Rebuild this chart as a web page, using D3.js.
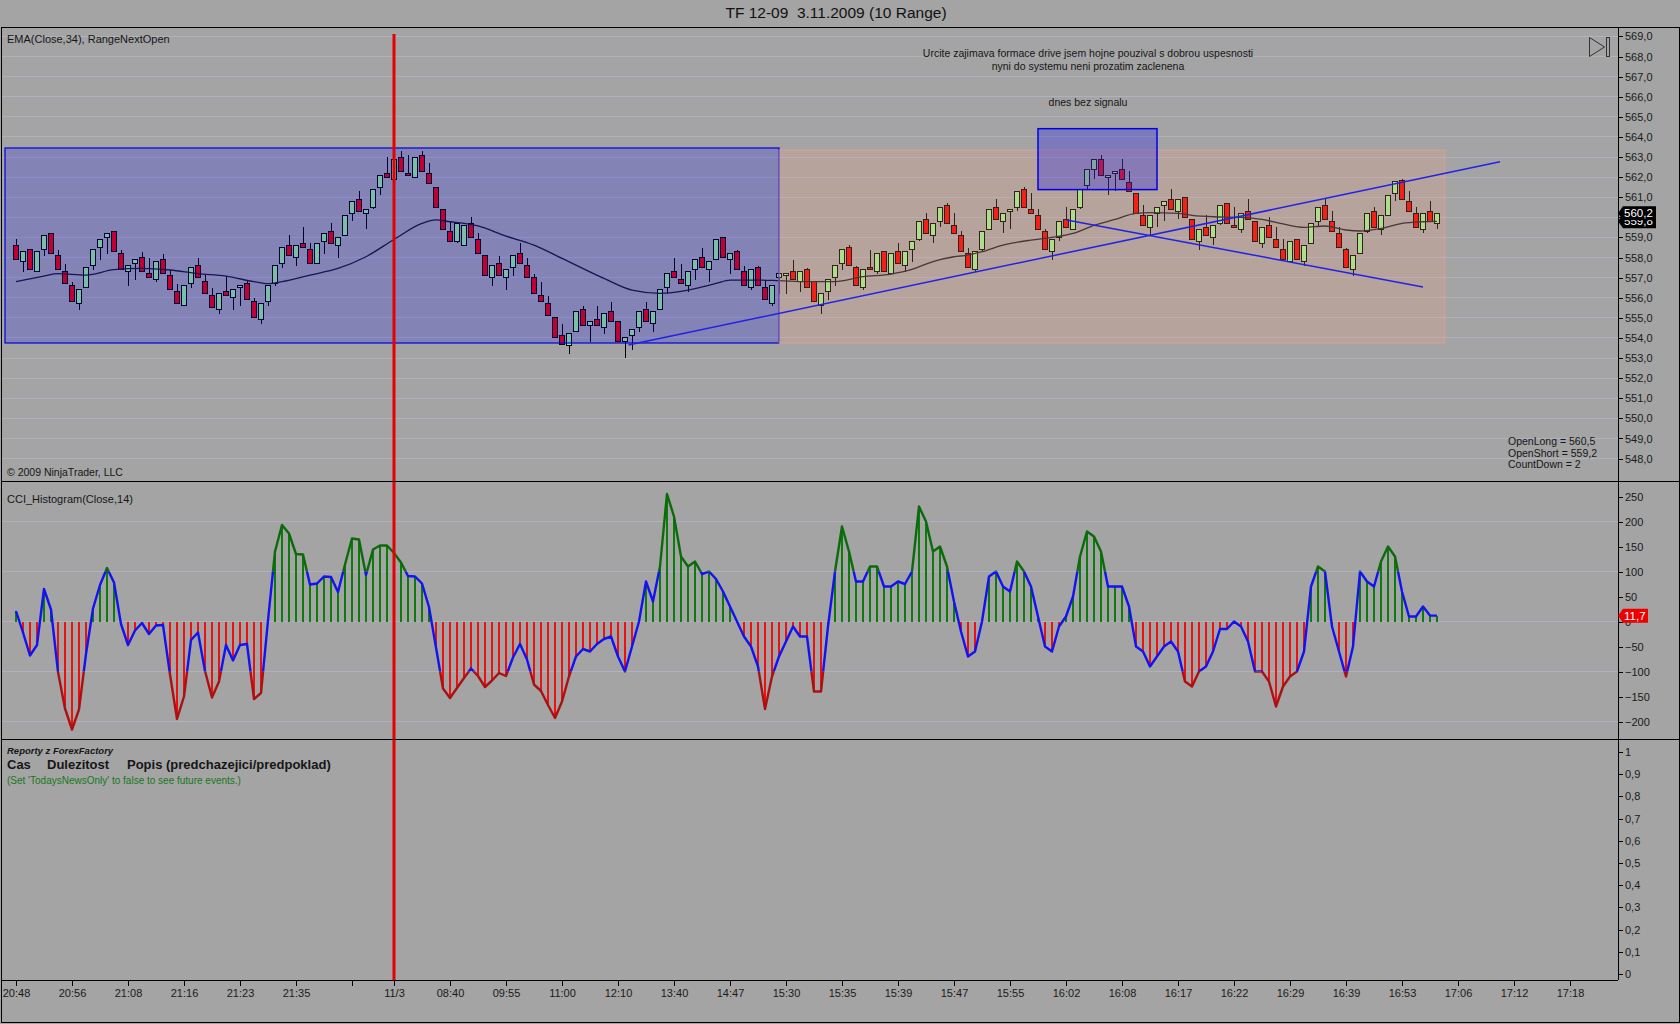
<!DOCTYPE html>
<html><head><meta charset="utf-8">
<script src="https://cdn.jsdelivr.net/npm/d3@7"></script>
<style>
html,body{margin:0;padding:0;background:#a4a4a4;}
svg{display:block;font-family:Arial,"Liberation Sans",sans-serif;}
</style></head><body>
<svg id="c" width="1680" height="1024"></svg>
<script>
// ---------------- DATA ----------------
const chartTitle = "TF 12-09  3.11.2009 (10 Range)";
const timeTickBars = [0,8,16,24,32,40,48,54,62,70,78,86,94,102,110,118,126,134,142,150,158,166,174,182,190,198,206,214,222];
const timeTickLabels = ["20:48","20:56","21:08","21:16","21:23","21:35","","11/3","08:40","09:55","11:00","12:10","13:40","14:47","15:30","15:35","15:39","15:47","15:55","16:02","16:08","16:17","16:22","16:29","16:39","16:53","17:06","17:12","17:18"];
const priceTicks = d3.range(548, 569.01, 1);
const cciTicks = [-200,-150,-100,-50,0,50,100,150,200,250];
const newsTicks = [0,0.1,0.2,0.3,0.4,0.5,0.6,0.7,0.8,0.9,1];

const highs = [
558.9,558.3,558.4,558.3,559.1,559.2,558.4,557.7,556.8,556.4,
557.5,558.4,558.9,559.2,559.3,558.4,557.6,557.9,558.3,558.0,
557.8,558.2,557.4,556.7,556.6,557.5,558.0,557.2,556.5,556.2,
557.1,556.4,556.6,556.9,556.0,555.7,556.6,557.6,558.5,559.1,
558.6,559.5,558.7,558.7,559.2,559.7,559.0,560.1,560.8,561.3,
560.4,561.4,562.1,563.0,562.9,563.3,563.1,563.0,563.3,562.7,
561.5,560.4,559.8,559.7,559.6,560.0,559.2,558.1,557.6,558.1,
557.4,558.1,558.7,558.0,557.2,556.8,556.1,555.0,554.7,554.2,
555.3,555.6,554.8,555.6,555.2,555.8,554.8,554.0,554.4,555.3,
555.8,555.3,556.4,557.2,558.0,557.7,557.3,557.9,558.5,557.8,
558.9,559.0,558.2,558.4,557.6,557.4,557.6,556.9,556.6,557.2,
557.2,557.9,557.3,557.5,556.8,556.2,556.9,557.6,558.4,558.6,
557.6,557.4,558.4,558.2,558.3,558.2,558.7,558.3,558.8,559.8,
560.2,559.7,560.5,560.7,560.2,559.3,558.5,558.3,559.3,560.4,
560.9,560.2,560.4,561.3,561.5,561.2,560.4,559.4,558.9,559.8,
560.5,560.4,561.4,562.4,562.9,563.1,562.1,562.3,562.9,562.3,
561.2,560.6,560.1,560.5,560.8,561.4,560.9,561.0,559.9,559.4,
560.1,559.6,560.6,560.7,560.5,560.2,560.9,559.8,559.5,560.0,
559.5,558.9,558.8,558.9,558.6,559.7,560.5,560.9,560.3,559.5,
558.5,558.1,559.2,560.2,560.5,560.1,561.1,561.8,561.9,561.3,
560.5,560.2,560.8,560.2];
const lows = [
557.9,557.3,557.4,557.3,558.1,558.2,557.4,556.7,555.8,555.4,
556.5,557.4,557.9,558.2,558.3,557.4,556.6,556.9,557.3,557.0,
556.8,557.2,556.4,555.7,555.6,556.5,557.0,556.2,555.5,555.2,
556.1,555.4,555.6,555.9,555.0,554.7,555.6,556.6,557.5,558.1,
557.6,558.5,557.7,557.7,558.2,558.7,558.0,559.1,559.8,560.3,
559.4,560.4,561.1,562.0,561.9,562.3,562.1,562.0,562.3,561.7,
560.5,559.4,558.8,558.7,558.6,559.0,558.2,557.1,556.6,557.1,
556.4,557.1,557.7,557.0,556.2,555.8,555.1,554.0,553.7,553.2,
554.3,554.6,553.8,554.6,554.2,554.8,553.8,553.0,553.4,554.3,
554.8,554.3,555.4,556.2,557.0,556.7,556.3,556.9,557.5,556.8,
557.9,558.0,557.2,557.4,556.6,556.4,556.6,555.9,555.6,556.2,
556.2,556.9,556.3,556.5,555.8,555.2,555.9,556.6,557.4,557.6,
556.6,556.4,557.4,557.2,557.3,557.2,557.7,557.3,557.8,558.8,
559.2,558.7,559.5,559.7,559.2,558.3,557.5,557.3,558.3,559.4,
559.9,559.2,559.4,560.3,560.5,560.2,559.4,558.4,557.9,558.8,
559.5,559.4,560.4,561.4,561.9,562.1,561.1,561.3,561.9,561.3,
560.2,559.6,559.1,559.5,559.8,560.4,559.9,560.0,558.9,558.4,
559.1,558.6,559.6,559.7,559.5,559.2,559.9,558.8,558.5,559.0,
558.5,557.9,557.8,557.9,557.6,558.7,559.5,559.9,559.3,558.5,
557.5,557.1,558.2,559.2,559.5,559.1,560.1,560.8,560.9,560.3,
559.5,559.2,559.8,559.4];
const opens = [
558.6,557.8,558.4,557.3,558.4,559.2,558.1,557.3,556.6,555.7,
556.5,557.6,558.5,559.0,559.3,558.2,557.3,557.7,558.0,557.2,
556.9,557.9,557.1,556.3,555.6,556.7,557.6,556.8,556.1,555.4,
556.3,556.0,556.5,556.7,555.8,554.9,555.8,556.7,557.7,558.6,
558.0,558.7,558.4,557.7,558.8,559.3,558.6,559.1,560.2,560.9,
560.2,560.5,561.5,562.2,561.9,563.0,562.2,562.0,563.1,562.2,
561.5,560.4,559.3,558.8,558.6,559.7,558.9,558.1,557.0,557.7,
557.0,557.5,558.2,557.6,557.0,556.1,555.7,555.0,554.1,553.65,
554.3,555.4,554.6,554.9,554.5,555.3,554.8,553.8,554.1,554.5,
555.4,554.7,555.4,556.5,557.3,556.9,556.6,557.4,558.0,557.4,
557.9,559.0,557.9,558.3,557.3,556.5,557.5,556.5,555.7,557.0,
557.1,557.3,556.8,557.4,556.8,555.6,556.3,557.0,557.7,558.5,
557.5,556.5,557.5,557.3,558.3,557.2,558.3,557.6,558.4,558.9,
559.9,559.1,559.8,560.6,559.6,559.1,558.2,557.4,558.4,559.4,
560.5,559.8,560.3,560.5,561.4,560.4,560.1,559.3,558.3,559.0,
559.9,559.4,560.5,561.6,562.4,562.9,562.0,562.2,562.4,561.75,
561.2,560.1,559.5,560.2,560.6,560.9,560.3,561.0,559.9,558.8,
559.5,559.0,559.7,560.7,559.6,559.4,560.3,559.8,558.7,559.6,
558.9,558.4,557.8,558.9,557.8,558.7,559.8,560.6,559.8,559.2,
558.4,557.4,558.2,559.3,560.3,559.4,560.1,561.2,561.85,560.8,
560.2,559.4,560.3,559.7];
const closes = [
557.9,558.3,557.4,558.3,559.1,558.2,557.4,556.7,555.8,556.4,
557.5,558.4,558.9,559.2,558.3,557.4,557.6,557.9,557.3,557.0,
557.8,557.2,556.4,555.7,556.6,557.5,557.0,556.2,555.5,556.2,
556.1,556.4,556.6,555.9,555.0,555.7,556.6,557.6,558.5,558.1,
558.6,558.5,557.7,558.7,559.2,558.7,559.0,560.1,560.8,560.3,
560.4,561.4,562.1,562.0,562.9,562.3,562.1,563.0,562.3,561.7,
560.5,559.4,558.8,559.7,559.6,559.0,558.2,557.1,557.6,557.1,
557.4,558.1,557.7,557.0,556.2,555.8,555.1,554.0,553.7,554.2,
555.3,554.6,554.8,554.6,555.2,554.8,553.8,554.0,554.4,555.3,
554.8,555.3,556.4,557.2,557.0,556.7,557.3,557.9,557.5,557.8,
558.9,558.0,558.2,557.4,556.6,557.4,556.6,555.9,556.6,557.2,
557.2,556.9,557.3,556.5,555.8,556.2,556.9,557.6,558.4,557.6,
556.6,557.4,557.4,558.2,557.3,558.2,557.7,558.3,558.8,559.8,
559.2,559.7,560.5,559.7,559.2,558.3,557.5,558.3,559.3,560.4,
559.9,560.2,560.4,561.3,560.5,560.2,559.4,558.4,558.9,559.8,
559.5,560.4,561.4,562.4,562.9,562.1,562.1,562.3,561.9,561.3,
560.2,559.6,560.1,560.5,560.8,560.4,560.9,560.0,558.9,559.4,
559.1,559.6,560.6,559.7,559.5,560.2,559.9,558.8,559.5,559.0,
558.5,557.9,558.8,557.9,558.6,559.7,560.5,559.9,559.3,558.5,
557.5,558.1,559.2,560.2,559.5,560.1,561.1,561.8,560.9,560.3,
559.5,560.2,559.8,560.2];

const emaBars = [0,4,6,10,14,18,22,26,30,34,36,38,42,46,50,54,58,60,62,64,66,70,74,78,84,88,92,96,100,102,106,109,113,117,121,125,128,131,134,136,138,141,145,148,151,154,157,160,162,166,168,171,175,178,181,184,187,190,192,195,198,201,203];
const emaValues = [556.8,557.08,557.2,557.13,557.4,557.46,557.38,557.2,557.08,556.8,556.7,556.8,557.13,557.46,558.04,558.9,559.7,559.87,559.78,559.7,559.57,559.07,558.62,557.96,556.96,556.38,556.22,556.38,556.71,556.88,556.88,556.85,556.8,556.8,557.05,557.18,557.41,557.8,558.04,558.12,558.29,558.62,558.87,559.0,559.2,559.6,559.9,560.2,560.23,560.2,560.1,560.03,560.0,559.9,559.67,559.5,559.57,559.37,559.32,559.45,559.7,559.78,559.8];

const cci = [
21,-22,-68,-47,65,24,-101,-174,-216,-176,
-65,26,73,107,78,-5,-47,-18,-3,-25,
-8,-7,-106,-195,-150,-37,-22,-99,-152,-120,
-47,-78,-47,-45,-155,-143,2,140,193,176,
135,134,74,76,90,89,59,114,166,164,
93,144,152,152,137,118,91,90,76,29,
-52,-134,-153,-133,-113,-94,-109,-131,-118,-103,
-109,-72,-45,-76,-126,-139,-167,-193,-160,-110,
-70,-55,-60,-45,-35,-30,-70,-100,-50,0,
80,40,110,255,210,130,110,120,95,100,
85,60,30,0,-30,-50,-90,-175,-110,-70,
-40,-10,-30,-30,-140,-140,-10,100,190,140,
80,80,110,110,70,70,80,75,100,230,
200,140,150,110,40,-20,-70,-60,0,90,
100,70,60,120,100,70,10,-50,-60,-10,
10,50,130,180,170,140,70,70,70,30,
-50,-60,-90,-70,-50,-40,-60,-120,-130,-100,
-90,-60,-15,-15,0,-10,-40,-100,-100,-120,
-170,-130,-110,-100,-60,70,110,100,-10,-60,
-110,-50,100,80,70,120,150,130,60,10,
10,30,12,11.7];

// drawing objects (bar index / price coordinates)
const rangeRectBars = [-1.57, 109];      const rangeRectPrices = [553.75, 563.45];
const nextRectBars = [109, 204.1];       const nextRectPrices = [553.75, 563.35];
const signalRectBars = [146, 163];       const signalRectPrices = [561.38, 564.41];
const trendUpBars = [87.5, 212];         const trendUpPrices = [553.65, 562.77];
const trendDownBars = [150.1, 201];      const trendDownPrices = [559.87, 556.54];
const sessionBar = 54;
const lastClose = 560.2, lastEma = 559.8, lastCci = 11.7;
const noteLines = ["Urcite zajimava formace drive jsem hojne pouzival s dobrou uspesnosti","nyni do systemu neni prozatim zaclenena"];
const noteSignal = "dnes bez signalu";
const statusLines = ["OpenLong = 560,5","OpenShort = 559,2","CountDown = 2"];

// ---------------- LAYOUT ----------------
const W=1680,H=1024, L=1, R=1618, OR=1679;
const P={top:27,bottom:481}, C={top:481,bottom:739}, N={top:739,bottom:980};
const svg=d3.select("#c");
const x=d3.scaleLinear().domain([0,222]).range([16,1570]);
const yP=d3.scaleLinear().domain([548,569]).range([458.6,36.4]);
const yC=d3.scaleLinear().domain([-200,250]).range([721.5,496.5]);
const yN=d3.scaleLinear().domain([0,1]).range([974,752]);
const comma = f => v => d3.format(f)(v).replace(".",",");
const BG="#a4a4a4", GRID="#b0b0be";

svg.append("rect").attr("width",W).attr("height",H).attr("fill",BG);

const defs=svg.append("defs");
defs.append("clipPath").attr("id","clipP").append("rect").attr("x",L).attr("y",P.top).attr("width",R-L).attr("height",P.bottom-P.top);

// gridlines
const grid=svg.append("g").attr("shape-rendering","crispEdges").attr("stroke",GRID);
grid.selectAll(".gp").data(priceTicks).join("line").attr("x1",L).attr("x2",R).attr("y1",d=>yP(d)).attr("y2",d=>yP(d));
grid.selectAll(".gc").data([-200,-100,0,100,200]).join("line").attr("x1",L).attr("x2",R).attr("y1",d=>yC(d)).attr("y2",d=>yC(d));

// candles
const idx=d3.range(opens.length);
const cg=svg.append("g").attr("clip-path","url(#clipP)").attr("shape-rendering","crispEdges");
cg.selectAll("line").data(idx).join("line")
  .attr("x1",i=>x(i)).attr("x2",i=>x(i)).attr("y1",i=>yP(highs[i])).attr("y2",i=>yP(lows[i]))
  .attr("stroke","#000").attr("stroke-width",1);
cg.selectAll("rect").data(idx).join("rect")
  .attr("x",i=>x(i)-2.5).attr("width",5)
  .attr("y",i=>yP(Math.max(opens[i],closes[i])))
  .attr("height",i=>Math.max(1,Math.abs(yP(opens[i])-yP(closes[i]))))
  .attr("fill",i=>closes[i]>=opens[i]?"#98ee90":"#f00000")
  .attr("stroke","#000").attr("stroke-width",1);

// EMA
svg.append("path").attr("clip-path","url(#clipP)")
  .attr("d",d3.line().curve(d3.curveMonotoneX).x((d,i)=>x(emaBars[i])).y(d=>yP(d))(emaValues))
  .attr("fill","none").attr("stroke","#1c1c26").attr("stroke-width",1.3);

// drawing objects
function rectFrom(b,p){return {x:x(b[0]),y:yP(p[1]),w:x(b[1])-x(b[0]),h:yP(p[0])-yP(p[1])};}
const rr=rectFrom(rangeRectBars,rangeRectPrices);
svg.append("rect").attr("x",rr.x).attr("y",rr.y).attr("width",rr.w).attr("height",rr.h)
  .attr("fill","#0000ff").attr("fill-opacity",0.2).attr("stroke","#0000e0").attr("stroke-width",1.2);
const nr=rectFrom(nextRectBars,nextRectPrices);
svg.append("rect").attr("x",nr.x).attr("y",nr.y).attr("width",nr.w).attr("height",nr.h)
  .attr("fill","#ffa07a").attr("fill-opacity",0.2).attr("stroke","#f0a090").attr("stroke-opacity",0.6).attr("stroke-width",1);
const sr=rectFrom(signalRectBars,signalRectPrices);
svg.append("rect").attr("x",sr.x).attr("y",sr.y).attr("width",sr.w).attr("height",sr.h)
  .attr("fill","#0000ff").attr("fill-opacity",0.25).attr("stroke","#0000e8").attr("stroke-width",1.5);
[[trendUpBars,trendUpPrices],[trendDownBars,trendDownPrices]].forEach(([b,p])=>{
  svg.append("line").attr("x1",x(b[0])).attr("y1",yP(p[0])).attr("x2",x(b[1])).attr("y2",yP(p[1]))
    .attr("stroke","#2222e6").attr("stroke-width",1.5);
});

// CCI histogram
const hg=svg.append("g").attr("shape-rendering","crispEdges");
hg.selectAll("line").data(idx).join("line")
  .attr("x1",i=>x(i)).attr("x2",i=>x(i)).attr("y1",yC(0)).attr("y2",i=>yC(cci[i]))
  .attr("stroke",i=>cci[i]>=0?"#0c7c0c":"#f01010").attr("stroke-width",1.6);
const bands=[["cTop",C.top,yC(100),"#0c6a0c"],["cMid",yC(100),yC(-100),"#1212f2"],["cBot",yC(-100),C.bottom,"#a81212"]];
const cciLine=d3.line().x((d,i)=>x(i)).y(d=>yC(d));
bands.forEach(([id,y0,y1,col])=>{
  defs.append("clipPath").attr("id",id).append("rect").attr("x",L).attr("y",y0).attr("width",R-L).attr("height",y1-y0);
  svg.append("path").attr("d",cciLine(cci)).attr("fill","none").attr("stroke",col).attr("stroke-width",2.4)
    .attr("stroke-linejoin","round").attr("clip-path",`url(#${id})`);
});

// session line
svg.append("line").attr("x1",x(sessionBar)).attr("x2",x(sessionBar)).attr("y1",34).attr("y2",N.bottom)
  .attr("stroke","#e60000").attr("stroke-width",3);

// frames
const fr=svg.append("g").attr("stroke","#000").attr("shape-rendering","crispEdges").attr("fill","none");
fr.append("rect").attr("x",1).attr("y",P.top).attr("width",OR-1).attr("height",1022-P.top);
fr.append("line").attr("x1",1).attr("x2",OR).attr("y1",P.bottom).attr("y2",P.bottom);
fr.append("line").attr("x1",1).attr("x2",OR).attr("y1",C.bottom).attr("y2",C.bottom);
fr.append("line").attr("x1",R).attr("x2",R).attr("y1",P.top).attr("y2",N.bottom);
fr.append("line").attr("x1",1).attr("x2",R).attr("y1",N.bottom).attr("y2",N.bottom);

// axes
function styleAxis(g){
  g.select(".domain").remove();
  g.selectAll(".tick line").attr("stroke","#000").attr("shape-rendering","crispEdges");
  g.selectAll(".tick text").attr("fill","#1a1a1a").style("font-size","11px").style("font-family","Arial, 'Liberation Sans', sans-serif");
}
svg.append("g").attr("transform",`translate(${R},0)`)
  .call(d3.axisRight(yP).tickValues(priceTicks).tickSize(5).tickPadding(2).tickFormat(comma(".1f"))).call(styleAxis);
svg.append("g").attr("transform",`translate(${R},0)`)
  .call(d3.axisRight(yC).tickValues(cciTicks).tickSize(5).tickPadding(2).tickFormat(d3.format("d"))).call(styleAxis);
svg.append("g").attr("transform",`translate(${R},0)`)
  .call(d3.axisRight(yN).tickValues(newsTicks).tickSize(5).tickPadding(2).tickFormat(d=>d===0||d===1?String(d):comma(".1f")(d))).call(styleAxis);
svg.append("g").attr("transform",`translate(0,${N.bottom})`)
  .call(d3.axisBottom(x).tickValues(timeTickBars).tickSize(6).tickPadding(3).tickFormat((d,i)=>timeTickLabels[i])).call(styleAxis);

// value markers (the reference draws the two price markers overlapping)
function marker(v,yy,fill,w){
  const y0=yy(v);
  const g=svg.append("g");
  g.append("path").attr("d",`M${R},${y0} L${R+5},${y0-7} L${R+5+w},${y0-7} L${R+5+w},${y0+7} L${R+5},${y0+7} Z`).attr("fill",fill);
  g.append("text").attr("x",R+6).attr("y",y0+4).attr("fill","#fff").style("font-size","11.5px").text(comma(".1f")(v));
}
marker(lastEma,yP,"#000",33);
marker(lastClose,yP,"#000",33);
marker(lastCci,yC,"#ee0000",25);

// icon
svg.append("path").attr("d","M1589.5,37.5 L1604.5,47 L1589.5,56.5 Z").attr("fill","none").attr("stroke","#333");
svg.append("rect").attr("x",1606.5).attr("y",37.5).attr("width",3).attr("height",19).attr("fill","none").attr("stroke","#333");

// texts
const T=(t,xx,yy,size,opts={})=>{
  const e=svg.append("text").attr("x",xx).attr("y",yy).style("font-size",size+"px").style("white-space","pre")
    .attr("xml:space","preserve").attr("fill",opts.fill||"#161616").text(t);
  if(opts.anchor) e.attr("text-anchor",opts.anchor);
  if(opts.weight) e.style("font-weight",opts.weight);
  if(opts.italic) e.style("font-style","italic");
  return e;
};
T(chartTitle,836,18,15.5,{anchor:"middle",fill:"#111"});
T("EMA(Close,34), RangeNextOpen",7,43,11);
T("© 2009 NinjaTrader, LLC",7,476,10.5);
T("CCI_Histogram(Close,14)",7,503,11);
noteLines.forEach((t,i)=>T(t,1088,57+i*12.5,10.5,{anchor:"middle"}));
T(noteSignal,1088,106,10.5,{anchor:"middle"});
statusLines.forEach((t,i)=>T(t,1508,445+i*11.7,10.5));
T("Reporty z ForexFactory",7,754,9.5,{italic:true,weight:"bold"});
T("Cas",7,769,13,{weight:"bold"});
T("Dulezitost",47,769,13,{weight:"bold"});
T("Popis (predchazejici/predpoklad)",127,769,13,{weight:"bold"});
T("(Set 'TodaysNewsOnly' to false to see future events.)",7,784,10,{fill:"#17781a"});
</script></body></html>
